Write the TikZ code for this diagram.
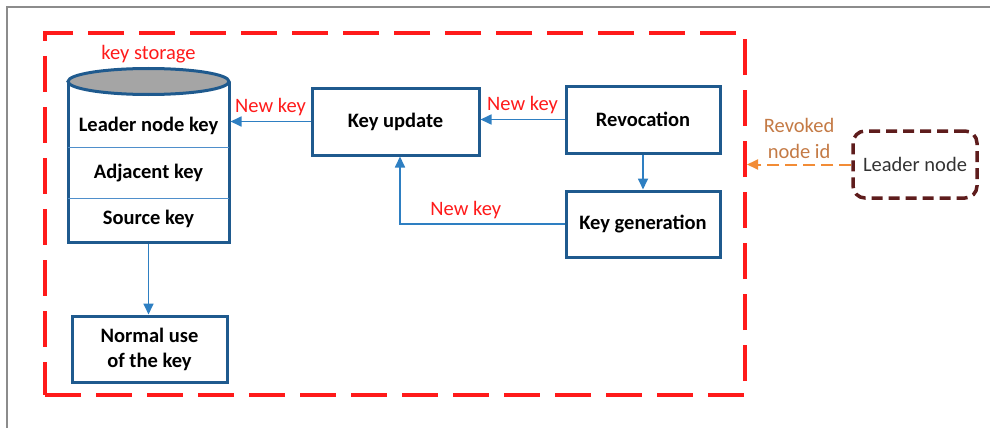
\documentclass[tikz,border=0pt]{standalone}
\usepackage{fontspec}
\setmainfont{Carlito}
\usetikzlibrary{shapes,arrows.meta,positioning,calc}

\definecolor{boxblue}{HTML}{1F5A8E}
\definecolor{arrblue}{HTML}{2E7FC2}
\definecolor{keyred}{HTML}{FF1A1A}
\definecolor{revorange}{HTML}{F28C36}
\definecolor{revtext}{HTML}{C47A45}
\definecolor{leaderbrown}{HTML}{5E1C1C}
\definecolor{lidgray}{HTML}{A5A5A5}
\definecolor{rowline}{HTML}{4F8FCB}

\begin{document}
\begin{tikzpicture}[
    x=1pt, y=-1pt,
    every node/.style={font=\fontsize{20.5}{25}\selectfont},
    blk/.style={rectangle, draw=boxblue, line width=3pt, fill=white, align=center, inner sep=0pt, font=\fontsize{20.5}{25}\selectfont\bfseries},
    rowtxt/.style={inner sep=0pt, font=\fontsize{20.5}{25}\selectfont\bfseries},
    lid/.style={ellipse, draw=boxblue, line width=3pt, fill=lidgray, minimum width=161pt, minimum height=26pt, inner sep=0pt},
    zonebox/.style={rectangle, draw=keyred, line width=4pt, dash pattern=on 36pt off 15pt, minimum width=700pt, minimum height=362pt},
    leadbox/.style={rectangle, rounded corners=12pt, draw=leaderbrown, line width=3.5pt, dash pattern=on 11pt off 6pt, minimum width=124pt, minimum height=67pt, text=black!80},
    arr/.style={-{Triangle[length=11pt,width=10pt]}, line width=1.7pt, draw=arrblue},
    revarr/.style={-{Triangle[length=11pt,width=10pt]}, line width=2pt, draw=revorange, dash pattern=on 12pt off 6pt},
    newkey/.style={text=keyred},
    revlbl/.style={text=revtext, align=center, font=\fontsize{20.5}{26}\selectfont},
    divider/.style={draw=rowline, line width=1pt},
    frame/.style={draw=black!45, line width=1.5pt}
]
    \useasboundingbox (0,0) rectangle (990,428);
    \draw [frame] (7,428) -- (7,7) -- (990,7);

    % secure zone
    \node [zonebox] (zone) at (395,214) {};

    % key storage
    \node [blk, minimum width=161pt, minimum height=159pt] (store) at (148.5,162.5) {};
    \node [lid] (lidtop) at (store.north) {};
    \node [newkey, above=0pt of lidtop] (kslbl) {key storage};
    \draw [divider] (68,147) -- (229,147);
    \draw [divider] (68,198) -- (229,198);
    \node [rowtxt] (lnk) at (148.5,126) {Leader node key};
    \node [rowtxt] (adk) at (148.5,173) {Adjacent key};
    \node [rowtxt] (srk) at (148.5,219) {Source key};

    \node [blk, minimum width=155pt, minimum height=66pt] (nuse) at (149.5,349) {Normal use\\of the key};

    \node [blk, minimum width=167pt, minimum height=67pt] (kupd) at (395.5,121.5) {Key update};
    \node [blk, minimum width=154pt, minimum height=67pt] (revo) at (643,119.5) {Revocation};
    \node [blk, minimum width=154pt, minimum height=66pt] (kgen) at (643,224) {Key generation};

    \node [leadbox] (leader) at (915,164.5) {Leader node};

    \draw [arr] (store.south) -- (store.south |- nuse.north);
    \draw [arr] (kupd.west) -- node[newkey, above, yshift=2pt] {New key} (kupd.west -| store.east);
    \draw [arr] (revo.west) -- node[newkey, above, yshift=2pt] {New key} (revo.west -| kupd.east);
    \draw [arr] (revo) -- (kgen);
    \draw [arr] (kgen.west) -| node[newkey, above, pos=0.3, yshift=1pt] {New key} ([xshift=4.5pt]kupd.south);
    \draw [revarr] (leader.west) -- node[revlbl, above, yshift=2pt] {Revoked\\node id} (leader.west -| zone.east);
\end{tikzpicture}
\end{document}
